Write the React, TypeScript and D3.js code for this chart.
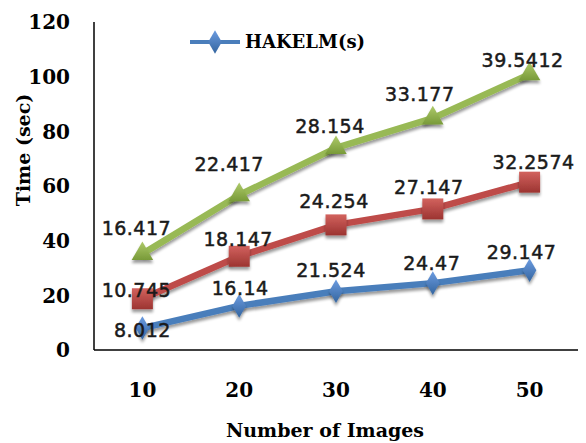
import React from "react";
import * as d3 from "d3";

// Image counts on the x axis
const categories = ["10", "20", "30", "40", "50"];
// Per-series times (sec); the chart stacks them
const seriesNames = ["HAKELM(s)", "Series2", "Series3"];
const seriesBlue = [8.012, 16.14, 21.524, 24.47, 29.147];
const seriesRed = [10.745, 18.147, 24.254, 27.147, 32.2574];
const seriesGreen = [16.417, 22.417, 28.154, 33.177, 39.5412];
const yTicks = [0, 20, 40, 60, 80, 100, 120];

// Label nudges (px) relative to each marker, per series
const labelShift: [number, number][][] = [
  [[0, 2], [1, -18], [-5, -21], [-1, -20], [-8, -18]],
  [[-6, -9], [-1, -17], [-2, -24], [-4, -22], [4, -20]],
  [[-6, -26], [-10, -31], [-6, -22], [-13, -24], [-7, -14]],
];

const W = 586;
const H = 443;
const left = 94;
const right = 578;
const top = 22;
const bottom = 350;

const colors = [
  { line: "#4a7ebb", light: "#6b9be0", dark: "#34659f" },
  { line: "#be4b48", light: "#d2625e", dark: "#9c3431" },
  { line: "#98b954", light: "#aeca6a", dark: "#789a38" },
];

export default function App() {
  const rows = categories.map((c, i) => ({
    cat: c,
    s0: seriesBlue[i],
    s1: seriesRed[i],
    s2: seriesGreen[i],
  }));
  const keys = ["s0", "s1", "s2"];
  const raw = [seriesBlue, seriesRed, seriesGreen];
  const stacked = d3.stack<any>().keys(keys)(rows);

  const x = d3.scaleBand<string>().domain(categories).range([left, right]).padding(0);
  const y = d3.scaleLinear().domain([0, 120]).range([bottom, top]);
  const cx = (c: string) => (x(c) as number) + x.bandwidth() / 2;

  const line = d3
    .line<any>()
    .x((d) => cx(d.data.cat))
    .y((d) => y(d[1]));

  const serif = "'DejaVu Serif', serif";
  const sans = "'DejaVu Sans', sans-serif";

  const diamond = d3.symbol(d3.symbolDiamond, 160)();
  const square = d3.symbol(d3.symbolSquare, 440)();
  const triangle = d3.symbol(d3.symbolTriangle, 200)();
  const shapes = [diamond, square, triangle];

  return (
    <svg width={W} height={H} style={{ position: "absolute", left: 0, top: 0 }}>
      <defs>
        {colors.map((c, i) => (
          <linearGradient key={i} id={`grad${i}`} x1="0" y1="0" x2="0" y2="1">
            <stop offset="0%" stopColor={c.light} />
            <stop offset="100%" stopColor={c.dark} />
          </linearGradient>
        ))}
        <filter id="shadow" x="-50%" y="-50%" width="200%" height="200%">
          <feGaussianBlur in="SourceAlpha" stdDeviation="1.5" />
          <feOffset dx="0" dy="2.5" result="b" />
          <feComponentTransfer>
            <feFuncA type="linear" slope="0.4" />
          </feComponentTransfer>
          <feMerge>
            <feMergeNode />
            <feMergeNode in="SourceGraphic" />
          </feMerge>
        </filter>
      </defs>
      <rect width={W} height={H} fill="#fff" />

      {/* axes */}
      <line x1={left} y1={top} x2={left} y2={bottom} stroke="#000" strokeWidth={1.5} />
      <line x1={left} y1={bottom} x2={right} y2={bottom} stroke="#000" strokeWidth={1.5} />

      {yTicks.map((t) => (
        <text
          key={t}
          x={70}
          y={y(t)}
          dy="0.36em"
          textAnchor="end"
          fontFamily={serif}
          fontWeight="bold"
          fontSize={20}
          fill="#000"
        >
          {t}
        </text>
      ))}
      {categories.map((c) => (
        <text
          key={c}
          x={cx(c)}
          y={397}
          textAnchor="middle"
          fontFamily={serif}
          fontWeight="bold"
          fontSize={20}
          fill="#000"
        >
          {c}
        </text>
      ))}

      <text
        x={325}
        y={437}
        textAnchor="middle"
        fontFamily={serif}
        fontWeight="bold"
        fontSize={19}
        fill="#000"
      >
        Number of Images
      </text>
      <text
        transform={`translate(30,150) rotate(-90)`}
        textAnchor="middle"
        fontFamily={serif}
        fontWeight="bold"
        fontSize={19}
        fill="#000"
      >
        Time (sec)
      </text>

      {/* series lines and markers */}
      {stacked.map((s, i) => (
        <g key={s.key}>
          <path
            d={line(s) as string}
            fill="none"
            stroke={colors[i].line}
            strokeWidth={6.5}
            strokeLinejoin="round"
            filter="url(#shadow)"
          />
          {s.map((d, j) => (
            <path
              key={j}
              d={shapes[i] as string}
              transform={`translate(${cx(d.data.cat)},${y(d[1])})`}
              fill={`url(#grad${i})`}
              filter="url(#shadow)"
            />
          ))}
        </g>
      ))}

      {/* value labels */}
      {stacked.map((s, i) =>
        s.map((d, j) => (
          <text
            key={`${i}-${j}`}
            x={cx(d.data.cat) + labelShift[i][j][0]}
            y={y(d[1]) + labelShift[i][j][1]}
            dy="0.36em"
            textAnchor="middle"
            fontFamily={sans}
            fontSize={19}
            letterSpacing={0.5}
            fill="#1a1a1a"
            stroke="#1a1a1a"
            strokeWidth={0.5}
          >
            {raw[i][j]}
          </text>
        ))
      )}

      {/* legend */}
      <line x1={190} y1={42} x2={240} y2={42} stroke={colors[0].line} strokeWidth={4} />
      <path d={diamond as string} transform="translate(215,42)" fill={`url(#grad0)`} />
      <text
        x={245}
        y={42}
        dy="0.36em"
        fontFamily={serif}
        fontWeight="bold"
        fontSize={18}
        fill="#000"
      >
        {seriesNames[0]}
      </text>
    </svg>
  );
}
